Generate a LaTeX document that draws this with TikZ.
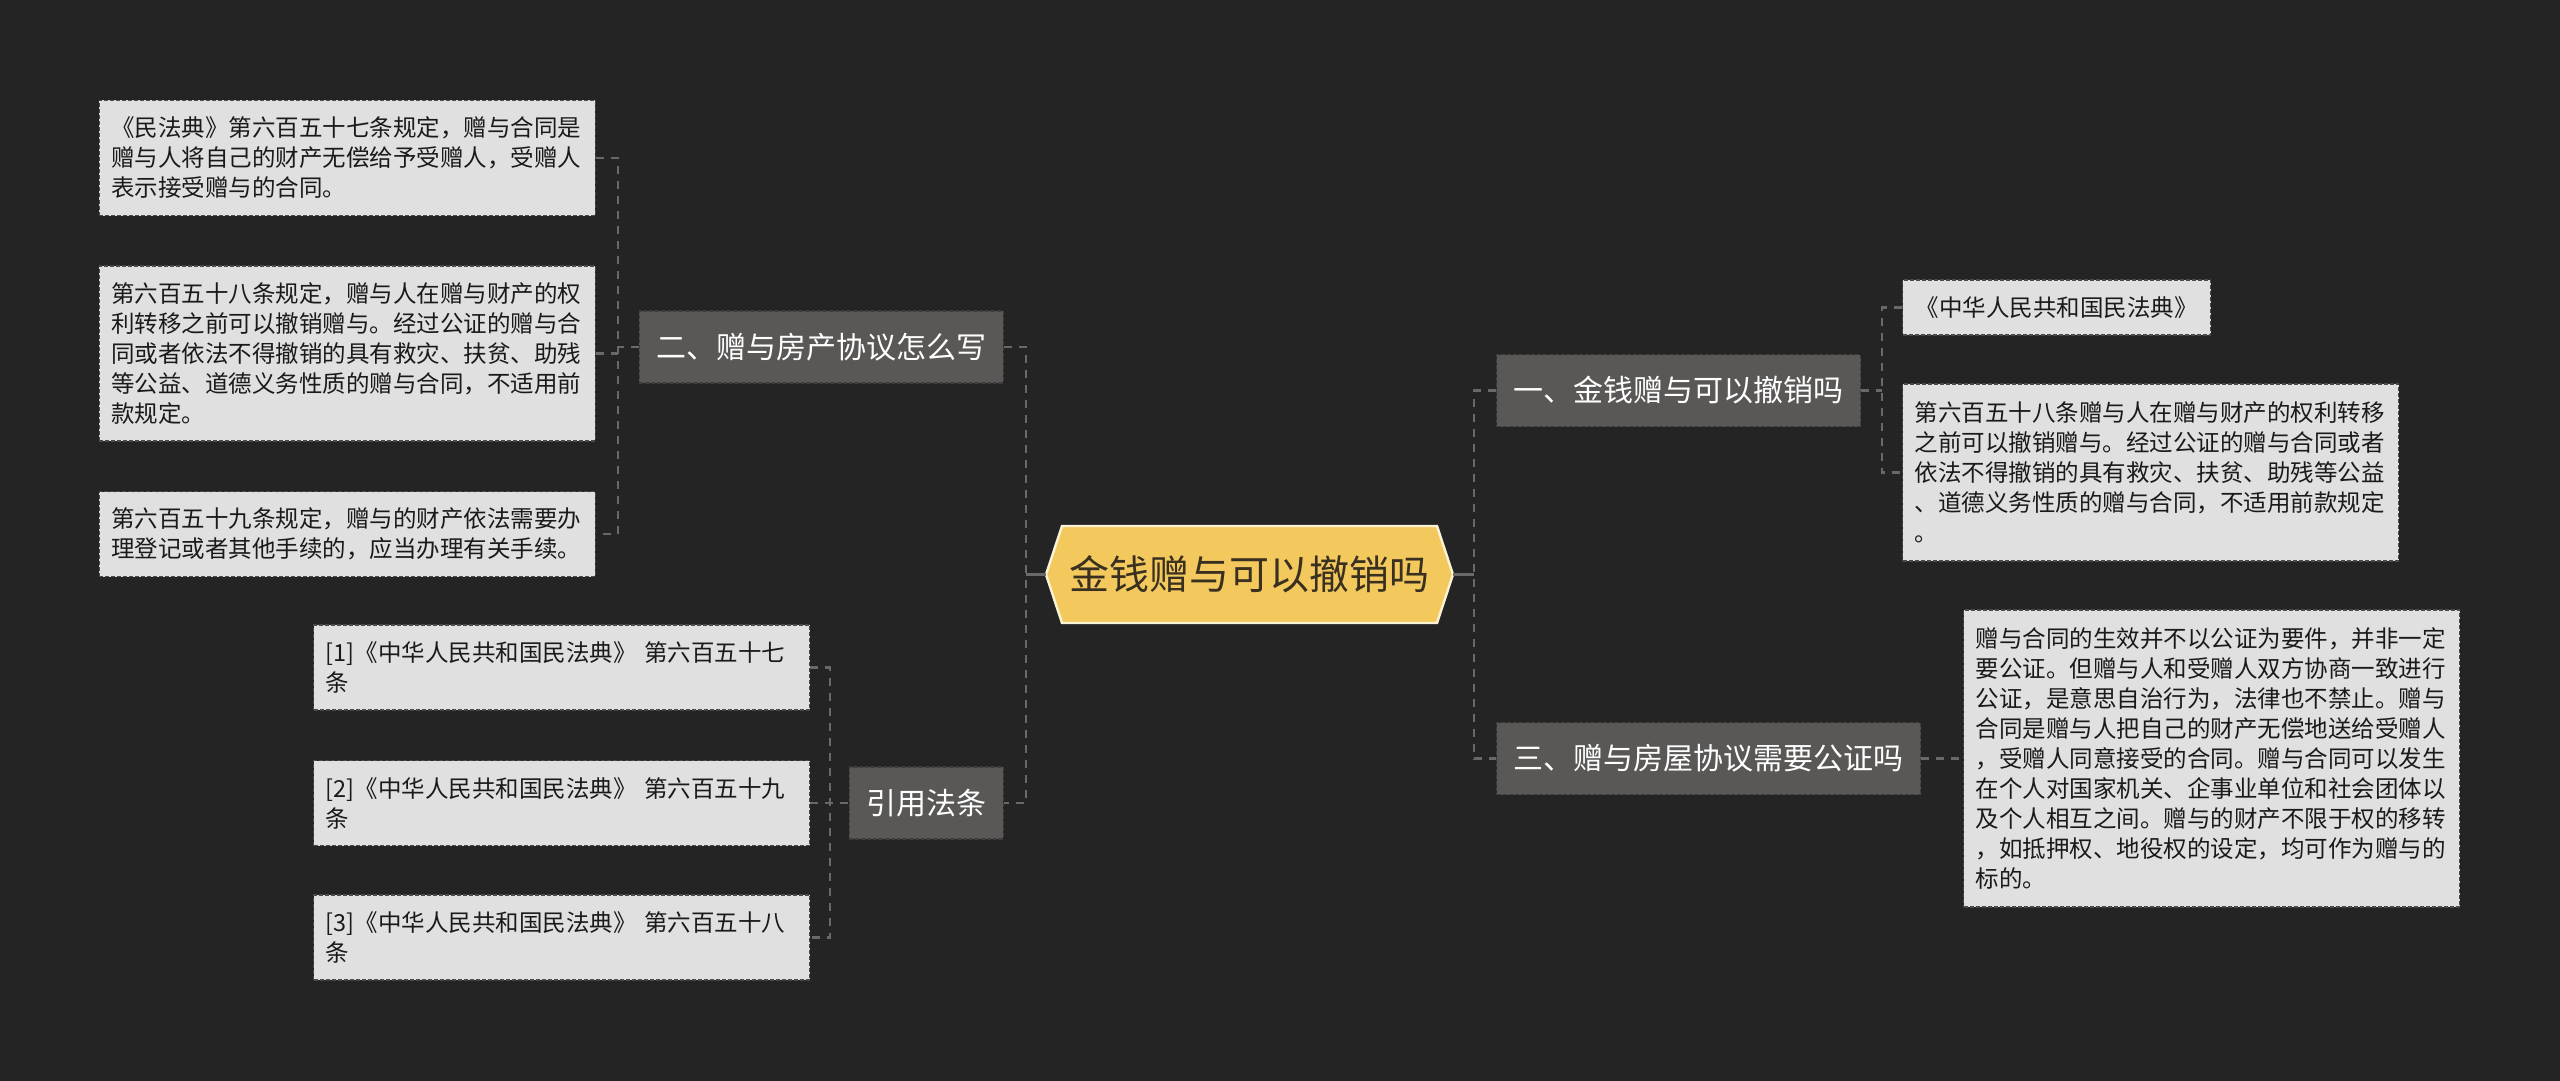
\documentclass[tikz,border=0pt]{standalone}
\usepackage{fontspec}
\setmainfont{Noto Sans CJK SC}
\usetikzlibrary{calc}
\definecolor{bgcol}{HTML}{242424}
\definecolor{lvfill}{HTML}{5A5856}
\definecolor{lvborder}{HTML}{3E3D3C}
\definecolor{leaffill}{HTML}{E0E0E0}
\definecolor{leafborder}{HTML}{4A4A4A}
\definecolor{leaftext}{HTML}{1A1A1A}
\definecolor{conncol}{HTML}{696969}
\definecolor{centerfill}{HTML}{F3C95E}
\definecolor{centerborder}{HTML}{FBF3D6}
\definecolor{centertext}{HTML}{3A3020}
\begin{document}
\begin{tikzpicture}[x=0.5pt,y=-0.5pt,
  lvone/.style={fill=lvfill, draw=lvborder, dash pattern=on 2pt off 1pt, line width=0.6pt,
    text=white, font=\fontsize{15}{18}\selectfont, minimum height=36pt, inner xsep=8.5pt, inner ysep=0pt},
  leaf/.style={fill=leaffill, draw=leafborder, dash pattern=on 2pt off 1pt, line width=0.6pt,
    text=leaftext, font=\fontsize{11.75}{15}\selectfont, align=left, text width=236pt,
    minimum width=248pt, inner xsep=6pt, inner ysep=0pt},
  leafone/.style={fill=leaffill, draw=leafborder, dash pattern=on 2pt off 1pt, line width=0.6pt,
    text=leaftext, font=\fontsize{11.75}{15}\selectfont, minimum width=154pt, minimum height=27.5pt, inner sep=0pt},
  conn/.style={draw=conncol, line width=1.1pt, dash pattern=on 4pt off 3.5pt},
  solidc/.style={draw=conncol, line width=1.5pt},
  centernode/.style={draw=none, minimum width=203.5pt, minimum height=48.5pt, inner sep=0pt,
    font=\fontsize{20}{24}\selectfont, text=centertext}
]
\useasboundingbox (0,0) rectangle (2560,1081);
\fill[bgcol] (0,0) rectangle (2560,1081);

% central hexagon
\filldraw[fill=centerfill, draw=centerborder, line width=1.2pt]
  (1046,574.5) -- (1062,526) -- (1437,526) -- (1453,574.5) -- (1437,623) -- (1062,623) -- cycle;
\node[centernode] (center) at (1249.5,574.5) {金钱赠与可以撤销吗};

% level one
\node[lvone, anchor=east] (n2) at (1004,347) {二、赠与房产协议怎么写};
\node[lvone, anchor=east] (yin) at (1004,803) {引用法条};
\node[lvone, anchor=west] (n1) at (1496,390.5) {一、金钱赠与可以撤销吗};
\node[lvone, anchor=west] (n3) at (1496,758.5) {三、赠与房屋协议需要公证吗};

% left leaves
\node[leaf, anchor=east, minimum height=57.5pt] (L1) at (596,158) {《民法典》第六百五十七条规定，赠与合同是\\
赠与人将自己的财产无偿给予受赠人，受赠人\\
表示接受赠与的合同。};
\node[leaf, anchor=east, minimum height=87.5pt] (L2) at (596,353.5) {第六百五十八条规定，赠与人在赠与财产的权\\
利转移之前可以撤销赠与。经过公证的赠与合\\
同或者依法不得撤销的具有救灾、扶贫、助残\\
等公益、道德义务性质的赠与合同，不适用前\\
款规定。};
\node[leaf, anchor=east, minimum height=42.5pt] (L3) at (596,534) {第六百五十九条规定，赠与的财产依法需要办\\
理登记或者其他手续的，应当办理有关手续。};

% references
\node[leaf, anchor=west, minimum height=42.5pt] (r1) at (313,667.5) {[1]《中华人民共和国民法典》 第六百五十七\\
条};
\node[leaf, anchor=west, minimum height=42.5pt] (r2) at (313,803) {[2]《中华人民共和国民法典》 第六百五十九\\
条};
\node[leaf, anchor=west, minimum height=42.5pt] (r3) at (313,937.5) {[3]《中华人民共和国民法典》 第六百五十八\\
条};

% right leaves
\node[leafone, anchor=west] (R1a) at (1902,307.5) {《中华人民共和国民法典》};
\node[leaf, anchor=west, minimum height=88.5pt] (R1b) at (1902,472.5) {第六百五十八条赠与人在赠与财产的权利转移\\
之前可以撤销赠与。经过公证的赠与合同或者\\
依法不得撤销的具有救灾、扶贫、助残等公益\\
、道德义务性质的赠与合同，不适用前款规定\\
。};
\node[leaf, anchor=west, minimum height=148.5pt] (R3a) at (1963,758.5) {赠与合同的生效并不以公证为要件，并非一定\\
要公证。但赠与人和受赠人双方协商一致进行\\
公证，是意思自治行为，法律也不禁止。赠与\\
合同是赠与人把自己的财产无偿地送给受赠人\\
，受赠人同意接受的合同。赠与合同可以发生\\
在个人对国家机关、企事业单位和社会团体以\\
及个人相互之间。赠与的财产不限于权的移转\\
，如抵押权、地役权的设定，均可作为赠与的\\
标的。};

% spines
\coordinate (sl) at (1026,574.5);
\coordinate (sr) at (1474,574.5);
\coordinate (s2) at (618,347);
\coordinate (s3) at (830,803);
\coordinate (s4) at (1882,390.5);

% connectors from center
\draw[solidc] (center.west) -- (sl);
\draw[solidc] (center.east) -- (sr);
\draw[conn] (n2.east) -- (n2.east -| sl) -- (yin.east -| sl) -- (yin.east);
\draw[conn] (n1.west) -- (n1.west -| sr) -- (n3.west -| sr) -- (n3.west);

% n2 group
\draw[conn] (L1.east) -- (L1.east -| s2) -- (L3.east -| s2) -- (L3.east);
\draw[conn] (L2.east) -- (L2.east -| s2);
\draw[conn] (n2.west) -- (n2.west -| s2);

% references group
\draw[conn] (r1.east) -- (r1.east -| s3) -- (r3.east -| s3) -- (r3.east);
\draw[conn] (r2.east) -- (yin.west);

% n1 group
\draw[conn] (R1a.west) -- (R1a.west -| s4) -- (R1b.west -| s4) -- (R1b.west);
\draw[conn] (n1.east) -- (n1.east -| s4);

% n3
\draw[conn] (n3.east) -- (R3a.west);
\end{tikzpicture}
\end{document}
